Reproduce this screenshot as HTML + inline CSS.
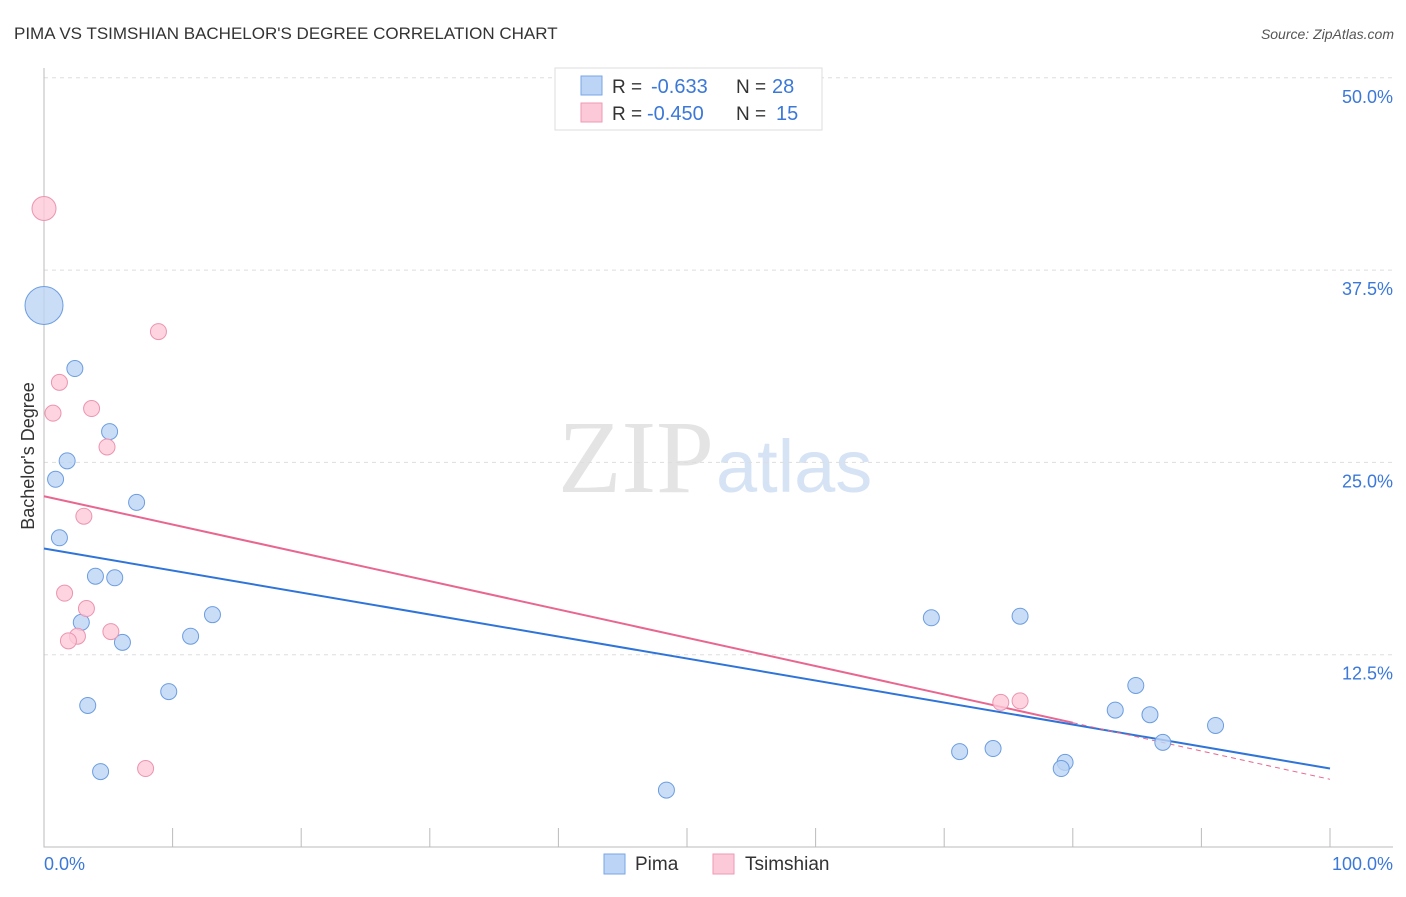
<!DOCTYPE html>
<html><head><meta charset="utf-8"><style>
body{margin:0;background:#fff;font-family:"Liberation Sans",sans-serif}
svg text{font-family:"Liberation Sans",sans-serif}
</style></head><body>
<svg id="c" width="1406" height="892" xmlns="http://www.w3.org/2000/svg">
<text x="14" y="39" font-size="17" fill="#333">PIMA VS TSIMSHIAN BACHELOR'S DEGREE CORRELATION CHART</text>
<text x="1394" y="39" font-size="14" fill="#555" font-style="italic" text-anchor="end">Source: ZipAtlas.com</text>
<text x="714" y="492" font-size="104" fill="#e4e4e4" text-anchor="end" style="font-family:'Liberation Serif',serif">ZIP</text>
<text x="716" y="492" font-size="74" fill="#d6e3f5">atlas</text>
<g id="grid"></g><g id="axes"></g><g id="lines"></g><g id="pts"></g>
<text x="34" y="456" font-size="18" fill="#333" transform="rotate(-90 34 456)" text-anchor="middle">Bachelor's Degree</text>
<text x="44" y="870" font-size="18" fill="#3b78d8">0.0%</text>
<text x="1393" y="870" font-size="18" fill="#3b78d8" text-anchor="end">100.0%</text>
<g>
<rect x="555" y="68" width="267" height="62" fill="#fff" stroke="#ddd"/>
<rect x="581" y="76" width="21" height="19" fill="#bcd4f5" stroke="#7aa6e6"/>
<rect x="581" y="103" width="21" height="19" fill="#fcc9d8" stroke="#ee9ab4"/>
<text x="612" y="93" font-size="19" fill="#333">R =</text>
<text x="651" y="93" font-size="20" fill="#3b78d8">-0.633</text>
<text x="736" y="93" font-size="19" fill="#333">N =</text>
<text x="772" y="93" font-size="20" fill="#3b78d8">28</text>
<text x="612" y="120" font-size="19" fill="#333">R =</text>
<text x="647" y="120" font-size="20" fill="#3b78d8">-0.450</text>
<text x="736" y="120" font-size="19" fill="#333">N =</text>
<text x="776" y="120" font-size="20" fill="#3b78d8">15</text>
</g>
<g>
<rect x="604" y="854" width="21" height="20" fill="#bcd4f5" stroke="#7aa6e6"/>
<text x="635" y="870" font-size="19" fill="#333">Pima</text>
<rect x="713" y="854" width="21" height="20" fill="#fcc9d8" stroke="#ee9ab4"/>
<text x="745" y="870" font-size="19" fill="#333">Tsimshian</text>
</g>
</svg>
<script>
const yTicks=[12.5,25,37.5,50];
const yTickLabels=["12.5%","25.0%","37.5%","50.0%"];
const pimaX=[0,2.4,5.1,1.8,0.9,7.2,1.2,4.0,5.5,13.1,2.9,11.4,6.1,9.7,3.4,4.4,48.4,69.0,75.9,84.9,83.3,86.0,91.1,87.0,71.2,73.8,79.4,79.1];
const pimaY=[35.2,31.1,27.0,25.1,23.9,22.4,20.1,17.6,17.5,15.1,14.6,13.7,13.3,10.1,9.2,4.9,3.7,14.9,15.0,10.5,8.9,8.6,7.9,6.8,6.2,6.4,5.5,5.1];
const tsX=[0,8.9,1.2,3.7,0.7,4.9,3.1,1.6,3.3,5.2,2.6,1.9,7.9,74.4,75.9];
const tsY=[41.5,33.5,30.2,28.5,28.2,26.0,21.5,16.5,15.5,14.0,13.7,13.4,5.1,9.4,9.5];
const pimaTrend=[19.4,5.1];
const tsTrend=[22.8,4.4];
const NS="http://www.w3.org/2000/svg";
const X=v=>44+v*12.86, Y=v=>847-v*15.385;
function mk(t,a,p){const e=document.createElementNS(NS,t);for(const k in a)e.setAttribute(k,a[k]);p.appendChild(e);return e;}
const grid=document.getElementById('grid'),axes=document.getElementById('axes'),lines=document.getElementById('lines'),pts=document.getElementById('pts');
yTicks.forEach((t,i)=>{
 const l=mk('line',{x1:44,x2:1393,y1:Y(t),y2:Y(t),stroke:'#ddd','stroke-dasharray':'4 4'},grid);
 
 
 const tx=mk('text',{x:1393,y:Y(t)+25,'font-size':18,fill:'#3b78d8','text-anchor':'end'},grid);
 tx.textContent=yTickLabels[i];
 
 
});
const ax=mk('path',{d:'M44 68V847H1393',stroke:'#bbb',fill:'none'},axes);


for(let i=1;i<=10;i++){const tk=mk('line',{x1:X(i*10),x2:X(i*10),y1:828,y2:847,stroke:'#bbb'},axes);
 
 }
const pl=mk('line',{x1:X(0),y1:Y(pimaTrend[0]),x2:X(100),y2:Y(pimaTrend[1]),stroke:'#2f74d8','stroke-width':2},lines);


const ty=f=>tsTrend[0]+(tsTrend[1]-tsTrend[0])*f;
const tl=mk('line',{x1:X(0),y1:Y(ty(0)),x2:X(80),y2:Y(ty(0.8)),stroke:'#e8668f','stroke-width':2},lines);


const td=mk('line',{x1:X(80),y1:Y(ty(0.8)),x2:X(100),y2:Y(ty(1)),stroke:'#e8668f','stroke-width':1,'stroke-dasharray':'5 4'},lines);


pimaX.forEach((x,i)=>{const c=mk('circle',{cx:X(x),cy:Y(pimaY[i]),r:i==0?19:8,fill:'#bcd4f5','fill-opacity':0.8,stroke:'#6c9de0'},pts);
 
 });
tsX.forEach((x,i)=>{const c=mk('circle',{cx:X(x),cy:Y(tsY[i]),r:i==0?12:8,fill:'#fcc9d8','fill-opacity':0.8,stroke:'#ec94b0'},pts);
 
 });
</script>
</body></html>
